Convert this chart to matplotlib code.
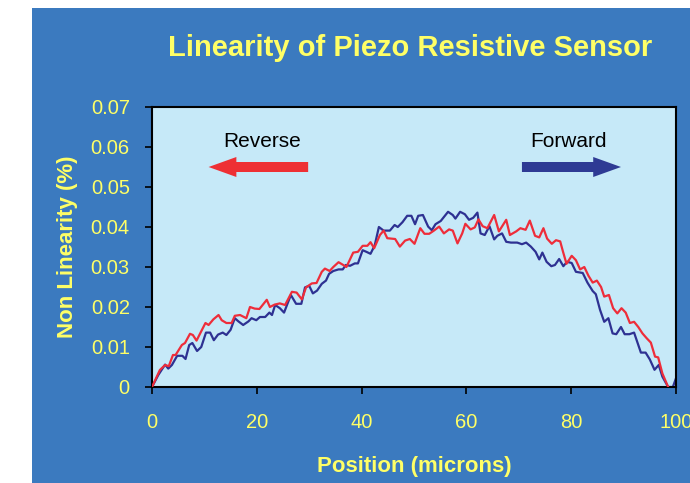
import matplotlib
matplotlib.use('Agg')
import matplotlib.pyplot as plt
from matplotlib.patches import Rectangle, FancyArrow

plt.rcParams['font.family'] = ['Liberation Sans', 'DejaVu Sans']

# forward scan (blue)
pos_fwd = [0, 1.2, 2.5, 3.1, 3.8, 4.8, 5.8, 6.4, 7.1, 7.7, 8.6, 9.4, 10.3, 11.1, 11.8,
           12.6, 13.5, 14.2, 15.0, 15.8, 16.5, 17.4, 18.4, 19.0, 19.9, 20.6, 21.6, 22.4,
           22.9, 23.5, 24.4, 25.2, 26.5, 27.5, 28.5, 29.2, 30.0, 30.7, 31.5, 32.4, 33.2,
           33.8, 34.6, 35.6, 36.4, 37.0, 37.8, 38.7, 39.3, 40.2, 40.9, 41.7, 42.5, 43.3,
           44.2, 45.4, 46.3, 46.9, 47.8, 48.7, 49.5, 50.2, 50.8, 51.7, 52.7, 53.4, 54.1,
           55.1, 56.5, 57.4, 57.9, 58.8, 59.7, 60.5, 61.3, 62.1, 62.7, 63.5, 64.4, 65.3,
           65.9, 66.8, 67.6, 68.5, 69.7, 70.6, 71.4, 72.3, 73.2, 73.9, 74.5, 75.3, 76.2,
           76.9, 77.7, 78.5, 79.2, 80.1, 80.9, 82.2, 83.1, 84.1, 84.7, 85.5, 86.3, 87.1,
           87.9, 88.6, 89.5, 90.2, 91.1, 92.0, 93.3, 94.2, 95.0, 95.9, 96.7, 97.4, 98.5,
           99.4, 100]
nl_fwd = [0, .003, .0056, .0046, .0055, .0078, .0078, .007, .0105, .011, .009, .010, .0136,
          .0136, .0117, .0131, .0136, .013, .0143, .0172, .0164, .0155, .0164, .0172, .0167,
          .0175, .0175, .0186, .018, .0205, .0197, .0186, .023, .0208, .0208, .0249, .0253,
          .0234, .0241, .0258, .0266, .0283, .029, .0294, .0294, .0305, .0303, .0309, .0309,
          .0342, .0338, .0333, .0354, .040, .0391, .0391, .0405, .040, .0412, .0428, .0428,
          .0407, .0428, .043, .0401, .0392, .0407, .0415, .0438, .043, .0421, .0438, .0432,
          .0418, .0423, .0436, .0384, .038, .0402, .0369, .0378, .0384, .0363, .0361, .0361,
          .0357, .0361, .0351, .0338, .0319, .0336, .0313, .0302, .0305, .032, .0302, .0313,
          .031, .0288, .0285, .0261, .024, .0232, .0193, .0163, .0172, .0134, .0132, .015,
          .0132, .0132, .0136, .0086, .0086, .0069, .0043, .0055, .0026, 0, 0, .0022]

# reverse scan (red)
pos_rev = [0, 1.5, 2.5, 3.2, 4.0, 4.5, 5.7, 6.3, 7.25, 7.8, 8.5, 9.5, 10.2, 10.8, 11.7,
           12.7, 13.3, 14.2, 15.2, 15.8, 16.8, 18.0, 18.7, 19.6, 20.5, 21.9, 22.5, 23.4,
           24.4, 25.4, 26.7, 27.6, 28.6, 29.4, 30.5, 31.4, 32.4, 33.0, 33.9, 34.6, 35.6,
           36.5, 37.1, 38.4, 39.3, 40.2, 41.1, 41.7, 42.4, 43.5, 44.2, 44.9, 46.4, 47.3,
           48.3, 49.2, 50.1, 51.2, 52.0, 52.9, 53.8, 54.8, 55.7, 56.7, 57.4, 58.3, 59.2,
           59.8, 60.8, 61.6, 62.3, 63.1, 64.0, 65.3, 66.2, 67.6, 68.3, 69.5, 70.3, 71.3,
           72.1, 73.1, 73.9, 74.7, 75.4, 76.3, 77.1, 77.9, 78.4, 79.1, 80.1, 80.9, 81.7,
           82.5, 83.3, 84.1, 84.9, 85.7, 86.3, 87.2, 88.0, 88.8, 89.6, 90.4, 91.2, 92.0,
           92.8, 93.6, 94.4, 95.2, 96.0, 96.6, 97.4, 98.5]
nl_rev = [0, .00425, .0055, .0052, .008, .008, .0105, .011, .0133, .013, .0116, .0142, .016,
          .0155, .0169, .018, .0167, .016, .016, .0178, .018, .0172, .020, .0196, .0195,
          .0218, .020, .0206, .0209, .0205, .0238, .0236, .0219, .0249, .0259, .026, .0288,
          .0296, .029, .030, .0312, .0305, .030, .0336, .0338, .0353, .0353, .0362, .0347,
          .038, .0391, .0372, .037, .0351, .0366, .037, .0358, .0397, .0383, .0383, .0391,
          .0401, .0384, .0394, .0391, .0359, .0384, .0408, .0394, .0399, .0419, .0402, .0397,
          .043, .0389, .0418, .038, .0389, .0397, .0393, .0416, .0378, .0374, .0397, .0371,
          .0358, .0367, .0364, .034, .0308, .0328, .0317, .0294, .030, .0278, .0261, .0266,
          .025, .0226, .023, .0197, .0184, .0197, .0186, .016, .0163, .015, .0134, .0122,
          .0111, .0076, .0074, .0034, 0]

xticks = [0, 20, 40, 60, 80, 100]
yticks = [0, 0.01, 0.02, 0.03, 0.04, 0.05, 0.06, 0.07]
ytick_labels = ['0', '0.01', '0.02', '0.03', '0.04', '0.05', '0.06', '0.07']

yellow = '#FFFF66'
bg_blue = '#3B7ABF'
red = '#EE2D3A'
navy = '#2E3192'

fig = plt.figure(figsize=(6.9, 4.83), dpi=100)
fig.patch.set_facecolor('white')
fig.patches.append(Rectangle((32 / 690, 0), 1, 1 - 8 / 483, transform=fig.transFigure,
                             facecolor=bg_blue, edgecolor='none', zorder=-10))

ax = fig.add_axes([152 / 690, 96 / 483, 524 / 690, 280 / 483])
ax.set_facecolor('#C6E9F8')

ax.plot(pos_rev, nl_rev, color=red, lw=1.6, zorder=3)
ax.plot(pos_fwd, nl_fwd, color=navy, lw=1.6, zorder=2)

ax.set_xlim(0, 100)
ax.set_ylim(0, 0.07)
ax.set_xticks(xticks)
ax.set_yticks(yticks)
ax.set_yticklabels(ytick_labels)
ax.tick_params(colors='black', labelcolor=yellow, labelsize=14.5, direction='out',
               length=5, width=1.2)
ax.tick_params(axis='x', pad=14)
ax.tick_params(axis='y', pad=11)
for s in ax.spines.values():
    s.set_color('black')
    s.set_linewidth(1.5)

ax.set_xlabel('Position (microns)', color=yellow, fontsize=16, fontweight='bold', labelpad=17)
ax.set_ylabel('Non Linearity (%)', color=yellow, fontsize=16, fontweight='bold', labelpad=9)

fig.text(410 / 690, 1 - 48 / 483, 'Linearity of Piezo Resistive Sensor', color=yellow,
         fontsize=21, fontweight='bold', ha='center', va='center')

# direction arrows
ax.add_patch(FancyArrow(29.8, 0.055, -19.0, 0, width=0.0025, head_width=0.005,
                        head_length=5.3, length_includes_head=True,
                        color='#EE3034', lw=0, zorder=4))
ax.add_patch(FancyArrow(70.6, 0.055, 18.9, 0, width=0.0025, head_width=0.005,
                        head_length=5.3, length_includes_head=True,
                        color='#2E3A94', lw=0, zorder=4))
ax.text(21, 0.0613, 'Reverse', fontsize=15, ha='center', va='center', color='black')
ax.text(79.4, 0.0613, 'Forward', fontsize=15, ha='center', va='center', color='black')

fig.savefig('out.png', dpi=100)
